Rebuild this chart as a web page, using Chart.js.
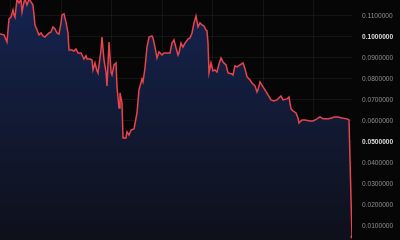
<!DOCTYPE html>
<html>
<head>
<meta charset="utf-8">
<script src="https://cdn.jsdelivr.net/npm/chart.js@4.4.1/dist/chart.umd.min.js"></script>
<style>
  html, body { margin: 0; padding: 0; background: #060607; }
  #wrap { width: 400px; height: 240px; }
</style>
</head>
<body>
<div id="wrap"><canvas id="priceChart" width="400" height="240"></canvas></div>
<script>
// time steps along the x axis
var steps = [0, 4, 7, 9, 11, 13, 14, 15, 17, 19, 21, 22, 24, 25, 27, 29, 31, 33, 35, 37,
  39, 41, 43, 45, 47, 49, 51, 53, 55, 57, 59, 61, 62, 64, 66, 68, 69, 72, 74, 76,
  78, 81, 82, 84, 86, 87, 90, 92, 93, 95, 97, 98, 101, 102, 104, 106, 107, 109, 111, 112,
  114, 116, 117, 119, 120, 122, 123, 126, 127, 129, 131, 134, 137, 139, 142, 143, 145, 147, 149, 152,
  153, 155, 157, 159, 162, 164, 167, 170, 172, 174, 176, 178, 179, 181, 183, 185, 188, 190, 192, 194,
  196, 198, 200, 202, 204, 206, 207, 208, 209, 211, 213, 215, 217, 219, 221, 223, 226, 228, 232, 233,
  235, 237, 240, 243, 245, 247, 250, 252, 255, 257, 258, 260, 263, 265, 268, 271, 274, 277, 279, 281,
  283, 287, 289, 291, 293, 296, 298, 299, 302, 305, 310, 313, 317, 320, 323, 328, 332, 334, 338, 342,
  347, 349, 352];

// price at each step
var prices = [0.1014, 0.1010, 0.0976, 0.1086, 0.1095, 0.1129, 0.1105, 0.1095, 0.1180, 0.1162, 0.1180, 0.1119, 0.1167, 0.1180, 0.1152, 0.1180, 0.1167, 0.1152, 0.1057, 0.1033,
  0.1010, 0.1019, 0.1005, 0.1000, 0.1010, 0.1019, 0.1024, 0.1048, 0.1038, 0.1019, 0.1014, 0.1067, 0.1105, 0.1110, 0.1071, 0.1019, 0.0938, 0.0938, 0.0933, 0.0943,
  0.0924, 0.0924, 0.0914, 0.0895, 0.0910, 0.0895, 0.0895, 0.0890, 0.0843, 0.0876, 0.0838, 0.0829, 0.0938, 0.1000, 0.0890, 0.0833, 0.0767, 0.0976, 0.0833, 0.0819,
  0.0867, 0.0876, 0.0762, 0.0662, 0.0733, 0.0686, 0.0519, 0.0519, 0.0548, 0.0533, 0.0557, 0.0562, 0.0638, 0.0748, 0.0800, 0.0786, 0.0852, 0.0952, 0.1000, 0.1005,
  0.0995, 0.0952, 0.0900, 0.0929, 0.0914, 0.0924, 0.0924, 0.0924, 0.0971, 0.0986, 0.0948, 0.0914, 0.0924, 0.0971, 0.0952, 0.0971, 0.0990, 0.0995, 0.1019, 0.1067,
  0.1100, 0.1048, 0.1067, 0.1057, 0.1052, 0.1033, 0.1029, 0.0971, 0.0829, 0.0876, 0.0838, 0.0843, 0.0833, 0.0871, 0.0900, 0.0881, 0.0867, 0.0829, 0.0824, 0.0819,
  0.0862, 0.0857, 0.0867, 0.0876, 0.0848, 0.0810, 0.0795, 0.0781, 0.0767, 0.0738, 0.0748, 0.0786, 0.0762, 0.0748, 0.0724, 0.0700, 0.0695, 0.0700, 0.0710, 0.0719,
  0.0700, 0.0705, 0.0714, 0.0657, 0.0648, 0.0638, 0.0614, 0.0590, 0.0605, 0.0605, 0.0600, 0.0600, 0.0610, 0.0619, 0.0610, 0.0610, 0.0614, 0.0619, 0.0619, 0.0614,
  0.0610, 0.0605, 0.0048];

var yTicks = [0.01, 0.02, 0.03, 0.04, 0.05, 0.06, 0.07, 0.08, 0.09, 0.10, 0.11];
var xGrid = [10.5, 61, 111.5, 162, 212.5, 263, 313.5];
var boldTicks = [0.05, 0.10];

var points = steps.map(function(s, i) { return { x: s, y: prices[i] }; });

function isBold(c) {
  if (!c || !c.tick) return false;
  return boldTicks.some(function(b) { return Math.abs(b - c.tick.value) < 1e-9; });
}

var ctx = document.getElementById('priceChart').getContext('2d');
var chart = new Chart(ctx, {
  type: 'line',
  data: {
    datasets: [{
      data: points,
      borderColor: '#e8444c',
      borderWidth: 1.5,
      tension: 0,
      fill: 'start',
      backgroundColor: function(context) {
        var area = context.chart.chartArea;
        if (!area) return 'rgba(20,34,74,0.8)';
        var g = context.chart.ctx.createLinearGradient(0, area.top, 0, area.bottom);
        g.addColorStop(0, '#15234e');
        g.addColorStop(1, '#0e101a');
        return g;
      },
      pointRadius: points.map(function(p, i) { return i === points.length - 1 ? 1.6 : 0; }),
      pointHoverRadius: 0,
      pointBackgroundColor: '#e8444c',
      pointBorderWidth: 0
    }]
  },
  options: {
    responsive: false,
    animation: false,
    layout: { autoPadding: false, padding: 0 },
    plugins: { legend: { display: false }, tooltip: { enabled: false } },
    scales: {
      x: {
        type: 'linear',
        min: 0,
        max: 352,
        afterBuildTicks: function(scale) {
          scale.ticks = xGrid.map(function(v) { return { value: v }; });
        },
        afterFit: function(scale) {
          scale.height = 0;
          scale.paddingLeft = 0;
          scale.paddingRight = 0;
        },
        grid: { color: 'rgba(255,255,255,0.06)', drawTicks: false },
        border: { display: false },
        ticks: { display: false }
      },
      y: {
        position: 'right',
        min: 0.0033,
        max: 0.1176,
        afterBuildTicks: function(scale) {
          scale.ticks = yTicks.map(function(v) { return { value: v }; });
        },
        afterFit: function(scale) {
          scale.width = 48;
          scale.paddingTop = 0;
          scale.paddingBottom = 0;
        },
        grid: { color: 'rgba(255,255,255,0.06)', drawTicks: false },
        border: { display: false },
        ticks: {
          padding: 10,
          font: function(c) {
            return { family: 'Liberation Sans, Arial, sans-serif', size: 6.6, weight: isBold(c) ? 'bold' : 'normal' };
          },
          color: function(c) { return isBold(c) ? '#dcdcdc' : '#8f8f8f'; },
          callback: function(v) { return v.toFixed(7); }
        }
      }
    }
  }
});
</script>
</body>
</html>
